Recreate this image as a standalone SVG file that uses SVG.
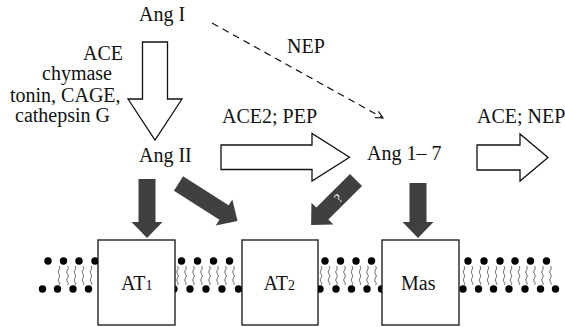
<svg xmlns="http://www.w3.org/2000/svg" xmlns:xlink="http://www.w3.org/1999/xlink" width="565" height="327" viewBox="0 0 565 327">
<style>
  .t { font-family: 'Liberation Serif', 'DejaVu Serif', serif; font-size: 20px; fill: #111; }
  .open { fill: #fff; stroke: #111; stroke-width: 1.3; stroke-linejoin: miter; }
  .dark { fill: #404040; stroke: none; }
  .box { fill: #fff; stroke: #111; stroke-width: 1.3; }
  .head { fill: #000; }
  .tail { fill: none; stroke: #333; stroke-width: 0.7; }
  .dash { fill: none; stroke: #111; stroke-width: 1.2; stroke-dasharray: 7 5; }
  .q { font-family: 'Liberation Serif', serif; font-size: 13px; fill: #fff; }
</style>
<defs>
  <marker id="vhead" viewBox="0 0 10 10" refX="9" refY="5" markerWidth="9" markerHeight="9" markerUnits="userSpaceOnUse" orient="auto">
    <path d="M1,1 L9,5 L1,9" fill="none" stroke="#111" stroke-width="1.2"/>
  </marker>
  <path id="tail" class="tail" d="M0,0 q1.8,2 0,4 t0,4 t0,4 t0,4 t0,3"/>
</defs>

<!-- membrane -->
<g id="membrane">
  <g id="tails">
    <use href="#tail" x="59" y="266"/><use href="#tail" x="67.5" y="266"/><use href="#tail" x="75" y="266"/><use href="#tail" x="83" y="266"/><use href="#tail" x="91" y="266"/><use href="#tail" x="99" y="266"/>
    <use href="#tail" x="177.5" y="266"/><use href="#tail" x="185.5" y="266"/><use href="#tail" x="193.5" y="266"/><use href="#tail" x="201.5" y="266"/><use href="#tail" x="209.5" y="266"/><use href="#tail" x="217.5" y="266"/><use href="#tail" x="225.5" y="266"/><use href="#tail" x="233.5" y="266"/>
    <use href="#tail" x="321" y="266"/><use href="#tail" x="329" y="266"/><use href="#tail" x="336.5" y="266"/><use href="#tail" x="344.5" y="266"/><use href="#tail" x="352" y="266"/><use href="#tail" x="360" y="266"/><use href="#tail" x="367.5" y="266"/><use href="#tail" x="375.5" y="266"/>
    <use href="#tail" x="464" y="266"/><use href="#tail" x="472" y="266"/><use href="#tail" x="480" y="266"/><use href="#tail" x="488" y="266"/><use href="#tail" x="496" y="266"/><use href="#tail" x="504" y="266"/><use href="#tail" x="511" y="266"/><use href="#tail" x="519" y="266"/><use href="#tail" x="526.5" y="266"/><use href="#tail" x="534.5" y="266"/><use href="#tail" x="542.5" y="266"/><use href="#tail" x="550.5" y="266"/>
  </g>
  <g id="heads" class="head">
    <circle cx="48" cy="261" r="3.7"/><circle cx="63.5" cy="261" r="3.7"/><circle cx="79" cy="261" r="3.7"/><circle cx="95" cy="261" r="3.7"/>
    <circle cx="42.5" cy="289" r="3.7"/><circle cx="57.5" cy="289" r="3.7"/><circle cx="73" cy="289" r="3.7"/><circle cx="88.5" cy="289" r="3.7"/>
    <circle cx="181.5" cy="261" r="3.7"/><circle cx="197.5" cy="261" r="3.7"/><circle cx="213.5" cy="261" r="3.7"/><circle cx="229.5" cy="261" r="3.7"/>
    <circle cx="174" cy="289" r="3.7"/><circle cx="190" cy="289" r="3.7"/><circle cx="206" cy="289" r="3.7"/><circle cx="222" cy="289" r="3.7"/><circle cx="238.5" cy="289" r="3.7"/>
    <circle cx="325" cy="261" r="3.7"/><circle cx="340.5" cy="261" r="3.7"/><circle cx="356" cy="261" r="3.7"/><circle cx="371.5" cy="261" r="3.7"/>
    <circle cx="320" cy="289" r="3.7"/><circle cx="336" cy="289" r="3.7"/><circle cx="351.5" cy="289" r="3.7"/><circle cx="367" cy="289" r="3.7"/><circle cx="381.5" cy="289" r="3.7"/>
    <circle cx="468" cy="261" r="3.7"/><circle cx="484" cy="261" r="3.7"/><circle cx="500" cy="261" r="3.7"/><circle cx="515" cy="261" r="3.7"/><circle cx="530.5" cy="261" r="3.7"/><circle cx="546.5" cy="261" r="3.7"/>
    <circle cx="463" cy="289" r="3.7"/><circle cx="478.5" cy="289" r="3.7"/><circle cx="493.5" cy="289" r="3.7"/><circle cx="509" cy="289" r="3.7"/><circle cx="525" cy="289" r="3.7"/><circle cx="540.5" cy="289" r="3.7"/><circle cx="555.5" cy="289" r="3.7"/>
  </g>
</g>

<!-- connectors -->
<g id="connectors">
  <path class="open" d="M142.5,42 H167.5 V99 H182 L155,140 L128,99 H142.5 Z"/>
  <path class="open" d="M221,145 H312 V133.5 L349.5,157.3 L312,181 V169.5 H221 Z"/>
  <path class="open" d="M477,145 H520 V134 L548,157.5 L520,181 V170 H477 Z"/>
  <line class="dash" x1="212" y1="23" x2="383" y2="118" marker-end="url(#vhead)"/>
  <path class="dark" transform="translate(147,179) rotate(90)" d="M0,-8.5 H43 V-15.5 L59,0 L43,15.5 V8.5 H0 Z"/>
  <path class="dark" transform="translate(178.5,183.5) rotate(32.5)" d="M0,-8.5 H54 V-15.5 L70,0 L54,15.5 V8.5 H0 Z"/>
  <path class="dark" transform="translate(356,180) rotate(135)" d="M0,-8.5 H47.5 V-15.5 L63.5,0 L47.5,15.5 V8.5 H0 Z"/>
  <text class="q" font-family="Liberation Serif, serif" transform="translate(338,198) rotate(-45)" text-anchor="middle" dominant-baseline="central">?</text>
  <path class="dark" transform="translate(418,183) rotate(90)" d="M0,-8.5 H39 V-15.5 L55,0 L39,15.5 V8.5 H0 Z"/>
</g>

<!-- labels -->
<g id="enzymes" font-family="Liberation Serif, serif" font-size="20">
  <text class="t" x="83" y="60">ACE</text>
  <text class="t" x="42" y="80">chymase</text>
  <text class="t" x="10" y="102">tonin, CAGE,</text>
  <text class="t" x="15" y="122">cathepsin G</text>
  <text class="t" x="287" y="53">NEP</text>
  <text class="t" x="222" y="123">ACE2; PEP</text>
  <text class="t" x="477" y="123">ACE; NEP</text>
</g>

<g id="angI"><text class="t" x="139" y="21">Ang I</text></g>
<g id="angII"><text class="t" x="139" y="162">Ang II</text></g>
<g id="ang17"><text class="t" x="367" y="160">Ang 1– 7</text></g>

<g id="AT1">
  <rect class="box" x="98" y="240" width="77" height="85"/>
  <text class="t" x="121" y="290">AT<tspan font-size="14">1</tspan></text>
</g>
<g id="AT2">
  <rect class="box" x="242" y="240" width="76" height="85"/>
  <text class="t" x="263.5" y="290">AT<tspan font-size="14">2</tspan></text>
</g>
<g id="Mas">
  <rect class="box" x="382" y="240" width="77" height="85"/>
  <text class="t" x="401" y="289.5">Mas</text>
</g>
</svg>
